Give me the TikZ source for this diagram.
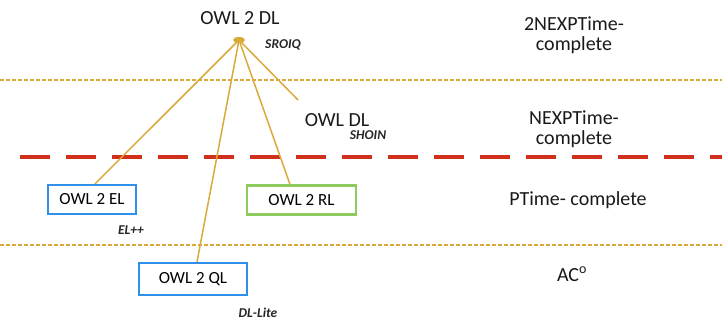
\documentclass[tikz,border=0pt]{standalone}
\usepackage{fontspec}
\setmainfont{Carlito}
\usetikzlibrary{positioning}
\definecolor{gold}{HTML}{D9A93A}
\definecolor{redd}{HTML}{D0301C}
\definecolor{blueb}{HTML}{2F8FEA}
\definecolor{greenb}{HTML}{8CCB5E}
\begin{document}
\begin{tikzpicture}[x=1pt,y=-1pt,
  lbl/.style={font=\fontsize{20}{20}\selectfont, text=black!90, align=center, inner sep=0pt},
  sub/.style={font=\fontsize{13.5}{14}\selectfont\bfseries\itshape, text=black!85, inner sep=0pt},
  owlbox/.style={draw, line width=2.2pt, minimum height=29pt, font=\fontsize{17}{18}\selectfont, inner sep=0pt},
  sep/.style={gold, line width=1.3pt, dash pattern=on 4pt off 2pt},
  link/.style={gold, line width=1.5pt}]
\useasboundingbox (0,0) rectangle (722,320);
% separators
\draw[sep] (0,80) -- (722,80);
\draw[sep] (0,245) -- (722,245);
\draw[redd, line width=4pt, dash pattern=on 30pt off 16pt] (20,157) -- (722,157);
% nodes
\node[lbl] (dl2) at (240,18) {OWL 2 DL};
\node[sub] (sroiq) at (283,45) {SROIQ};
\coordinate (hub) at (239,40);
\node[lbl] (owldl) at (337,120) {OWL DL};
\node[sub] (shoin) at (368,135) {SHOIN};
\node[owlbox, draw=blueb, minimum width=88pt] (el) at (92,199.5) {OWL 2 EL};
\node[sub] (elpp) at (131,230) {EL++};
\node[owlbox, draw=greenb, minimum width=109pt] (rl) at (301.5,200) {OWL 2 RL};
\node[owlbox, draw=blueb, minimum width=108pt, minimum height=32pt] (ql) at (193,279) {OWL 2 QL};
\node[sub] (dllite) at (258,313) {DL-Lite};
% complexity labels
\node[lbl] (c1) at (574,35) {2NEXPTime-\\complete};
\node[lbl] (c2) at (574,129) {NEXPTime-\\complete};
\node[lbl] (c3) at (578,200) {PTime- complete};
\node[lbl] (c4) at (572,274) {AC\textsuperscript{o}};
% links
\draw[link] (hub) -- (el.north -| 95,0);
\draw[link] (hub) -- (ql.north -| 197,0);
\draw[link] (hub) -- (rl.north -| 290,0);
\draw[link] (hub) -- (298,100) coordinate (dlend);
\fill[gold] (hub) ellipse (6pt and 3pt);
\end{tikzpicture}
\end{document}
